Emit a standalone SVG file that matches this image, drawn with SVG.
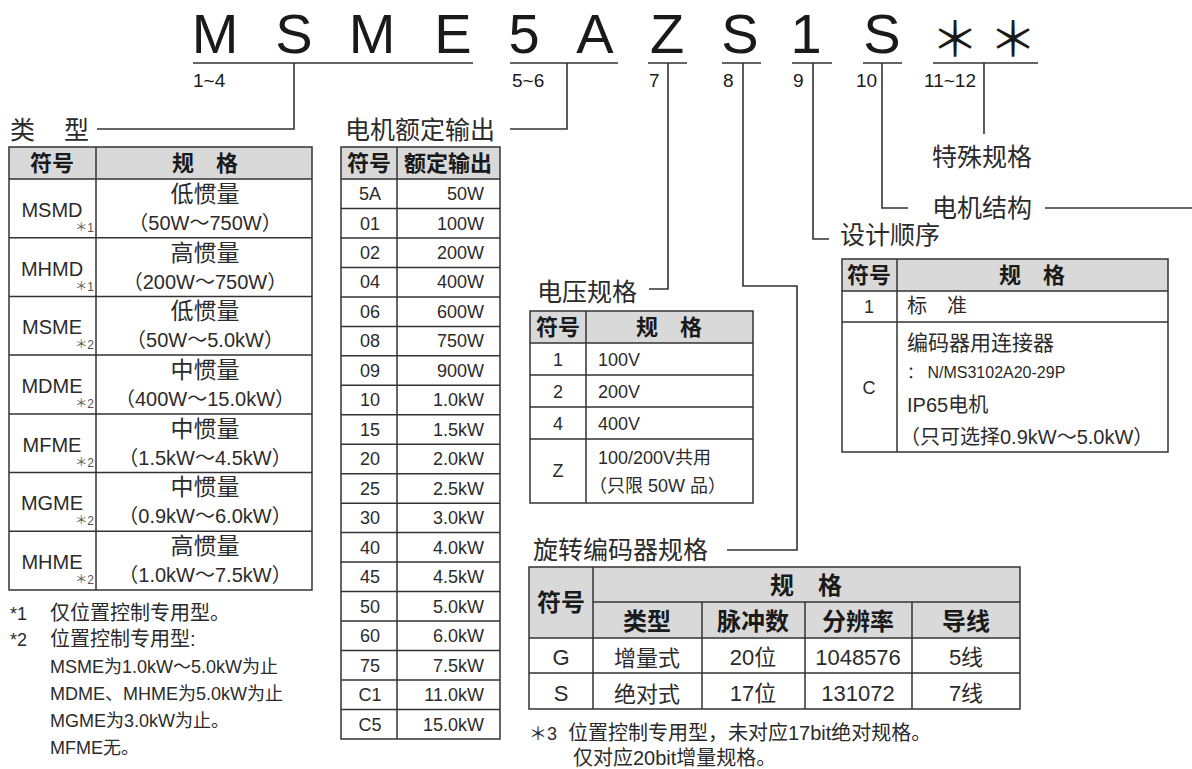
<svg xmlns="http://www.w3.org/2000/svg" width="1192" height="769" viewBox="0 0 1192 769">
<defs>
<style>
text{font-family:"Liberation Sans","Noto Sans CJK SC",sans-serif;fill:#2b2b2b}
.ttl{font-size:56px;fill:#1a1a1a;text-anchor:middle}
.star{font-family:"Noto Sans CJK SC",sans-serif;font-size:48px;fill:#1a1a1a;text-anchor:middle}
.idx{font-size:19px;fill:#1a1a1a}
.lbl{font-family:"Noto Sans CJK SC",sans-serif;font-size:25px}
.hd{font-family:"Noto Sans CJK SC",sans-serif;font-size:22px;font-weight:bold;text-anchor:middle;fill:#1a1a1a}
.hd2{font-family:"Noto Sans CJK SC",sans-serif;font-size:24px;font-weight:bold;text-anchor:middle;fill:#1a1a1a}
.c{text-anchor:middle}
.r{text-anchor:end}
.f18{font-size:18px}
.f20{font-size:20px}
.f21{font-size:21px}
.f23{font-size:23px}
.f16{font-size:16px}
.sm{font-size:12px;fill:#555}
.hdr{fill:#d9d9d9;stroke:none}
.ln{stroke:#333;stroke-width:1.6;fill:none}
.tb{stroke:#333;stroke-width:1.5;fill:none}
</style>
</defs>
<rect width="1192" height="769" fill="#fff"/>

<g id="title">
<text class="ttl" x="215" y="53">M</text>
<text class="ttl" x="294" y="53">S</text>
<text class="ttl" x="372" y="53">M</text>
<text class="ttl" x="453" y="53">E</text>
<text class="ttl" x="524" y="53">5</text>
<text class="ttl" x="595" y="53">A</text>
<text class="ttl" x="667" y="53">Z</text>
<text class="ttl" x="740" y="53">S</text>
<text class="ttl" x="806" y="53">1</text>
<text class="ttl" x="882" y="53">S</text>
<text class="star" x="955" y="56">＊</text>
<text class="star" x="1013" y="56">＊</text>
<text class="idx" x="193" y="87">1~4</text>
<text class="idx" x="512" y="87">5~6</text>
<text class="idx" x="649" y="87">7</text>
<text class="idx" x="723" y="87">8</text>
<text class="idx" x="793" y="87">9</text>
<text class="idx" x="856" y="87">10</text>
<text class="idx" x="924" y="87">11~12</text>
</g>

<g id="connectors" class="ln">
<path d="M193 63H473M510 63H618M648 63H687M722 63H761M792 63H832M863 63H902M933 63H1038"/>
<path d="M294 63V129H97"/>
<path d="M567 63V129H510"/>
<path d="M668 63V289H649"/>
<path d="M743 63V286H797V550H727"/>
<path d="M813 63V239H829"/>
<path d="M882 63V208H908"/>
<path d="M1045 208H1192"/>
<path d="M984 63V134"/>
</g>

<g id="labels">
<text class="lbl" x="10" y="139">类</text>
<text class="lbl" x="64" y="139">型</text>
<text class="lbl" x="345" y="139">电机额定输出</text>
<text class="lbl" x="537" y="301">电压规格</text>
<text class="lbl" x="533" y="559">旋转编码器规格</text>
<text class="lbl" x="840" y="244">设计顺序</text>
<text class="lbl" x="932" y="166">特殊规格</text>
<text class="lbl" x="932" y="217">电机结构</text>
</g>

<g id="type-table">
<rect class="hdr" x="9" y="147" width="303" height="32"/>
<path class="tb" d="M9 147H312V590H9ZM96 147V590M9 179H312M9 237.7H312M9 296.4H312M9 355.1H312M9 413.9H312M9 472.6H312M9 531.3H312"/>
<text class="hd" x="52" y="171">符号</text>
<text class="hd" x="205" y="171">规　格</text>
<text class="f20 c" x="52" y="217">MSMD</text><text class="sm r" x="94" y="232">＊1</text>
<text class="f23 c" x="205" y="202">低惯量</text><text class="f20 c" x="205" y="230">（50W～750W）</text>
<text class="f20 c" x="52" y="276">MHMD</text><text class="sm r" x="94" y="291">＊1</text>
<text class="f23 c" x="205" y="261">高惯量</text><text class="f20 c" x="205" y="289">（200W～750W）</text>
<text class="f20 c" x="52" y="334">MSME</text><text class="sm r" x="94" y="349">＊2</text>
<text class="f23 c" x="205" y="319">低惯量</text><text class="f20 c" x="205" y="347">（50W～5.0kW）</text>
<text class="f20 c" x="52" y="393">MDME</text><text class="sm r" x="94" y="408">＊2</text>
<text class="f23 c" x="205" y="378">中惯量</text><text class="f20 c" x="205" y="406">（400W～15.0kW）</text>
<text class="f20 c" x="52" y="452">MFME</text><text class="sm r" x="94" y="467">＊2</text>
<text class="f23 c" x="205" y="437">中惯量</text><text class="f20 c" x="205" y="465">（1.5kW～4.5kW）</text>
<text class="f20 c" x="52" y="510">MGME</text><text class="sm r" x="94" y="525">＊2</text>
<text class="f23 c" x="205" y="495">中惯量</text><text class="f20 c" x="205" y="523">（0.9kW～6.0kW）</text>
<text class="f20 c" x="52" y="569">MHME</text><text class="sm r" x="94" y="584">＊2</text>
<text class="f23 c" x="205" y="554">高惯量</text><text class="f20 c" x="205" y="582">（1.0kW～7.5kW）</text>
</g>

<g id="type-notes">
<text class="f18" x="10" y="620">*1</text>
<text class="f20" x="50" y="620">仅位置控制专用型。</text>
<text class="f18" x="10" y="646">*2</text>
<text class="f20" x="50" y="646">位置控制专用型:</text>
<text class="f18" x="50" y="673">MSME为1.0kW～5.0kW为止</text>
<text class="f18" x="50" y="700">MDME、MHME为5.0kW为止</text>
<text class="f18" x="50" y="727">MGME为3.0kW为止。</text>
<text class="f18" x="50" y="754">MFME无。</text>
</g>

<g id="power-table">
<rect class="hdr" x="341" y="147" width="159" height="32"/>
<path class="tb" d="M341 147H500V739H341ZM397 147V739M341 179H500M341 208.5H500M341 238H500M341 267.4H500M341 296.9H500M341 326.4H500M341 355.8H500M341 385.3H500M341 414.8H500M341 444.2H500M341 473.7H500M341 503.2H500M341 532.6H500M341 562.1H500M341 591.6H500M341 621H500M341 650.5H500M341 680H500M341 709.5H500"/>
<text class="hd" x="369" y="171">符号</text>
<text class="hd" x="448" y="171">额定输出</text>
<g class="f18">
<text class="c" x="370" y="200">5A</text><text class="r" x="484" y="200">50W</text>
<text class="c" x="370" y="229.5">01</text><text class="r" x="484" y="229.5">100W</text>
<text class="c" x="370" y="259">02</text><text class="r" x="484" y="259">200W</text>
<text class="c" x="370" y="288.4">04</text><text class="r" x="484" y="288.4">400W</text>
<text class="c" x="370" y="317.9">06</text><text class="r" x="484" y="317.9">600W</text>
<text class="c" x="370" y="347.4">08</text><text class="r" x="484" y="347.4">750W</text>
<text class="c" x="370" y="376.8">09</text><text class="r" x="484" y="376.8">900W</text>
<text class="c" x="370" y="406.3">10</text><text class="r" x="484" y="406.3">1.0kW</text>
<text class="c" x="370" y="435.8">15</text><text class="r" x="484" y="435.8">1.5kW</text>
<text class="c" x="370" y="465.2">20</text><text class="r" x="484" y="465.2">2.0kW</text>
<text class="c" x="370" y="494.7">25</text><text class="r" x="484" y="494.7">2.5kW</text>
<text class="c" x="370" y="524.2">30</text><text class="r" x="484" y="524.2">3.0kW</text>
<text class="c" x="370" y="553.6">40</text><text class="r" x="484" y="553.6">4.0kW</text>
<text class="c" x="370" y="583.1">45</text><text class="r" x="484" y="583.1">4.5kW</text>
<text class="c" x="370" y="612.6">50</text><text class="r" x="484" y="612.6">5.0kW</text>
<text class="c" x="370" y="642">60</text><text class="r" x="484" y="642">6.0kW</text>
<text class="c" x="370" y="671.5">75</text><text class="r" x="484" y="671.5">7.5kW</text>
<text class="c" x="370" y="701">C1</text><text class="r" x="484" y="701">11.0kW</text>
<text class="c" x="370" y="730.5">C5</text><text class="r" x="484" y="730.5">15.0kW</text>
</g>
</g>

<g id="voltage-table">
<rect class="hdr" x="530" y="311" width="223" height="32"/>
<path class="tb" d="M530 311H753V503H530ZM586 311V503M530 343H753M530 375H753M530 407H753M530 439H753"/>
<text class="hd" x="558" y="335">符号</text>
<text class="hd" x="669" y="335">规　格</text>
<g class="f18">
<text class="c" x="558" y="366">1</text><text x="598" y="366">100V</text>
<text class="c" x="558" y="398">2</text><text x="598" y="398">200V</text>
<text class="c" x="558" y="430">4</text><text x="598" y="430">400V</text>
<text class="c" x="558" y="477">Z</text><text x="598" y="464">100/200V共用</text>
<text x="589" y="492">（只限 50W 品）</text>
</g>
</g>

<g id="encoder-table">
<rect class="hdr" x="529" y="567" width="491" height="71"/>
<path class="tb" d="M529 567H1020V709H529ZM593 567V709M593 602H1020M529 638H1020M529 673H1020M702 602V709M805 602V709M912 602V709"/>
<text class="hd2" x="561" y="611">符号</text>
<text class="hd2" x="806" y="594">规　格</text>
<text class="hd2" x="647" y="630">类型</text>
<text class="hd2" x="753" y="630">脉冲数</text>
<text class="hd2" x="858" y="630">分辨率</text>
<text class="hd2" x="966" y="630">导线</text>
<g class="c" style="font-size:22px">
<text x="561" y="665">G</text><text x="647" y="666">增量式</text><text x="753" y="665">20位</text><text x="858" y="665">1048576</text><text x="966" y="665">5线</text>
<text x="561" y="701">S</text><text x="647" y="702">绝对式</text><text x="753" y="701">17位</text><text x="858" y="701">131072</text><text x="966" y="701">7线</text>
</g>
<text class="f18" x="529" y="740">＊3</text>
<text class="f20" x="568" y="740">位置控制专用型，未对应17bit绝对规格。</text>
<text class="f20" x="573" y="765">仅对应20bit增量规格。</text>
</g>

<g id="design-table">
<rect class="hdr" x="842" y="259" width="326" height="32"/>
<path class="tb" d="M842 259H1168V452H842ZM897 259V452M842 291H1168M842 322H1168"/>
<text class="hd" x="869" y="283">符号</text>
<text class="hd" x="1032" y="283">规　格</text>
<text class="f18 c" x="869" y="313">1</text>
<text class="f20" x="907" y="313">标　准</text>
<text class="f18 c" x="869" y="394">C</text>
<text class="f21" x="907" y="350">编码器用连接器</text>
<text class="f16" x="907" y="378">： N/MS3102A20-29P</text>
<text class="f20" x="907" y="412">IP65电机</text>
<text class="f20" x="900" y="444">（只可选择0.9kW～5.0kW）</text>
</g>
</svg>
